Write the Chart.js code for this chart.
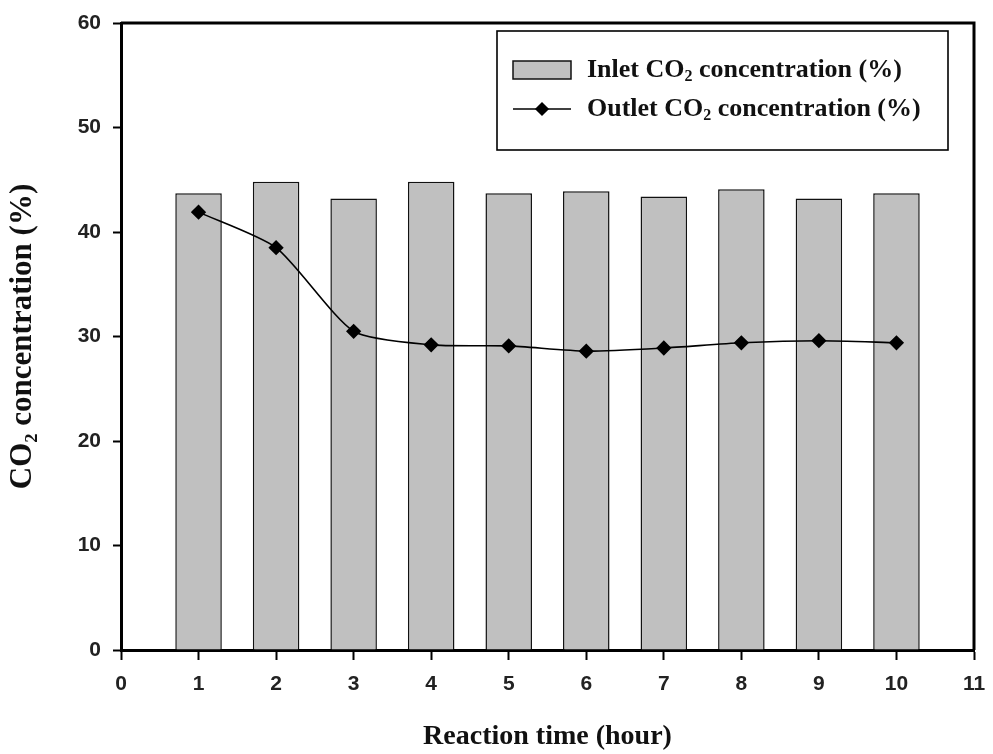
<!DOCTYPE html>
<html>
<head>
<meta charset="utf-8">
<script src="https://cdn.jsdelivr.net/npm/chart.js@4/dist/chart.umd.min.js"></script>
<style>
  html, body { margin: 0; padding: 0; background: #fff; }
  #wrap { width: 993px; height: 754px; }
</style>
</head>
<body>
<div id="wrap"><canvas id="c" width="993" height="754"></canvas></div>
<script>
// Reaction time (hour)
const hours = [1, 2, 3, 4, 5, 6, 7, 8, 9, 10];
// Inlet CO2 concentration (%) per hour
const inletCO2 = [43.7, 44.8, 43.2, 44.8, 43.7, 43.9, 43.4, 44.1, 43.2, 43.7];
// Outlet CO2 concentration (%) per hour
const outletCO2 = [41.9, 38.5, 30.5, 29.2, 29.1, 28.6, 28.9, 29.4, 29.6, 29.4];
// Axis tick values
const xTicks = [0, 1, 2, 3, 4, 5, 6, 7, 8, 9, 10, 11];
const yTicks = [0, 10, 20, 30, 40, 50, 60];

const seriesLabels = ['Inlet CO\u2082 concentration (%)', 'Outlet CO\u2082 concentration (%)'];

const serif = "'Liberation Serif', 'Times New Roman', serif";
const sans = "'Liberation Sans', Arial, sans-serif";

// Draw a string where "₂" is rendered as a lowered, smaller "2"
function drawSubText(ctx, text, x, y, size) {
  const parts = text.split('\u2082');
  let cx = x;
  parts.forEach((p, i) => {
    ctx.font = `bold ${size}px ${serif}`;
    ctx.fillText(p, cx, y);
    cx += ctx.measureText(p).width;
    if (i < parts.length - 1) {
      ctx.font = `bold ${Math.round(size * 0.62)}px ${serif}`;
      ctx.fillText('2', cx, y + size * 0.28);
      cx += ctx.measureText('2').width;
    }
  });
}

// Closes the plot frame on top and right
const framePlugin = {
  id: 'frame',
  afterDatasetsDraw(chart) {
    const { ctx, chartArea: a } = chart;
    ctx.save();
    ctx.strokeStyle = '#000';
    ctx.lineWidth = 3;
    ctx.beginPath();
    ctx.moveTo(a.left, a.top);
    ctx.lineTo(a.right, a.top);
    ctx.lineTo(a.right, a.bottom);
    ctx.stroke();
    ctx.restore();
  }
};

// Boxed legend in the upper right of the plot
const boxLegend = {
  id: 'boxLegend',
  afterDraw(chart) {
    const { ctx, chartArea: a } = chart;
    const bx = a.left + 376, by = a.top + 8, bw = 451, bh = 119;
    ctx.save();
    ctx.fillStyle = '#fff';
    ctx.fillRect(bx, by, bw, bh);
    ctx.strokeStyle = '#000';
    ctx.lineWidth = 1.6;
    ctx.strokeRect(bx, by, bw, bh);

    const ds0 = chart.data.datasets[0];
    const ds1 = chart.data.datasets[1];
    const sx = bx + 16, sw = 58;
    const row1 = by + 39, row2 = by + 78;

    // bar swatch
    ctx.fillStyle = ds0.backgroundColor;
    ctx.fillRect(sx, row1 - 9, sw, 18);
    ctx.lineWidth = 1.5;
    ctx.strokeStyle = ds0.borderColor;
    ctx.strokeRect(sx, row1 - 9, sw, 18);

    // line swatch with marker
    ctx.strokeStyle = ds1.borderColor;
    ctx.lineWidth = 1.5;
    ctx.beginPath();
    ctx.moveTo(sx, row2);
    ctx.lineTo(sx + sw, row2);
    ctx.stroke();
    Chart.helpers.drawPoint(ctx, { pointStyle: 'rectRot', radius: 6, borderWidth: 1 }, sx + sw / 2, row2);
    ctx.fillStyle = '#000';
    ctx.fill();

    ctx.fillStyle = '#111';
    ctx.textBaseline = 'middle';
    ctx.textAlign = 'left';
    drawSubText(ctx, ds0.label, sx + sw + 16, row1, 26);
    drawSubText(ctx, ds1.label, sx + sw + 16, row2, 26);
    ctx.restore();
  }
};

new Chart(document.getElementById('c'), {
  type: 'bar',
  data: {
    datasets: [
      {
        type: 'bar',
        label: seriesLabels[0],
        data: hours.map((h, i) => ({ x: h, y: inletCO2[i] })),
        backgroundColor: '#c0c0c0',
        borderColor: '#111',
        borderWidth: 1.5,
        barPercentage: 0.6,
        categoryPercentage: 1.0,
        order: 2
      },
      {
        type: 'line',
        label: seriesLabels[1],
        data: hours.map((h, i) => ({ x: h, y: outletCO2[i] })),
        borderColor: '#000',
        borderWidth: 1.6,
        backgroundColor: '#000',
        pointStyle: 'rectRot',
        pointRadius: 6.5,
        pointBackgroundColor: '#000',
        pointBorderColor: '#000',
        tension: 0.22,
        fill: false,
        order: 1
      }
    ]
  },
  options: {
    responsive: false,
    animation: false,
    devicePixelRatio: 1,
    layout: { padding: { top: 23, right: 19, left: 0, bottom: 0 } },
    plugins: {
      legend: { display: false },
      tooltip: { enabled: false }
    },
    scales: {
      x: {
        type: 'linear',
        min: 0,
        max: 11,
        offset: false,
        afterFit(s) { s.height = 104; s.paddingLeft = 0; s.paddingRight = 0; },
        afterBuildTicks(s) { s.ticks = xTicks.map(v => ({ value: v })); },
        ticks: {
          font: { family: sans, size: 21, weight: 'bold' },
          color: '#222',
          padding: 12,
          maxRotation: 0
        },
        grid: {
          display: true,
          drawOnChartArea: false,
          drawTicks: true,
          tickLength: 10,
          tickWidth: 2,
          tickColor: '#000',
          offset: false
        },
        border: { display: true, color: '#000', width: 3 },
        title: {
          display: true,
          text: 'Reaction time (hour)',
          font: { family: serif, size: 28, weight: 'bold' },
          color: '#111',
          padding: { top: 0, bottom: 0 }
        }
      },
      y: {
        min: 0,
        max: 60,
        afterFit(s) { s.width = 121; s.paddingTop = 0; s.paddingBottom = 0; },
        afterBuildTicks(s) { s.ticks = yTicks.map(v => ({ value: v })); },
        ticks: {
          font: { family: sans, size: 21, weight: 'bold' },
          color: '#222',
          padding: 12
        },
        grid: {
          display: true,
          drawOnChartArea: false,
          drawTicks: true,
          tickLength: 8,
          tickWidth: 2,
          tickColor: '#000'
        },
        border: { display: true, color: '#000', width: 3 },
        title: {
          display: true,
          text: 'CO\u2082 concentration (%)',
          font: { family: serif, size: 31, weight: 'bold' },
          color: '#111',
          padding: { top: 4, bottom: 0 }
        }
      }
    }
  },
  plugins: [framePlugin, boxLegend]
});
</script>
</body>
</html>
